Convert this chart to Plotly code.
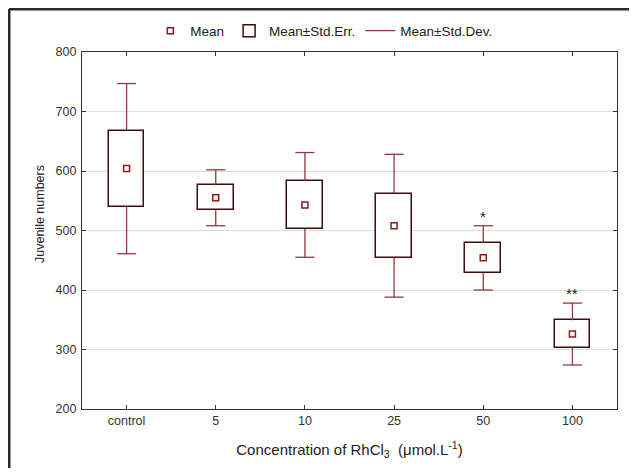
import plotly.graph_objects as go

categories = ["control", "5", "10", "25", "50", "100"]
means = [604, 555, 543, 508, 454, 326]
std_err = [64, 21, 40, 54, 25, 23]
std_dev = [143, 47, 88, 120, 54, 52]
significance = ["", "", "", "", "*", "**"]
y_ticks = [200, 300, 400, 500, 600, 700, 800]

FONT = "Liberation Sans, Arial, sans-serif"
BOX_COL = "#3f0d0d"
WHISK_COL = "#8e3b3b"
MEAN_COL = "#8b1a1a"

# figure geometry (page body keeps an 8px margin)
W, H = 629, 460
L, R, T, B = 74, 20, 44, 59
PW, PH = W - L - R, H - T - B

xs = list(range(len(categories)))
box_half = 0.2
cap_half = 0.107

# whisker segments (stems from box edge to mean±SD, plus caps)
wx, wy = [], []
for x, m, se, sd in zip(xs, means, std_err, std_dev):
    wx += [x, x, None, x, x, None]
    wy += [m + se, m + sd, None, m - se, m - sd, None]
    wx += [x - cap_half, x + cap_half, None, x - cap_half, x + cap_half, None]
    wy += [m + sd, m + sd, None, m - sd, m - sd, None]

fig = go.Figure()
fig.add_trace(go.Bar(
    x=xs, y=[2 * s for s in std_err], base=[m - s for m, s in zip(means, std_err)],
    width=2 * box_half, marker=dict(color="white", line=dict(color=BOX_COL, width=1.5)),
    name="Mean±Std.Err.", legendrank=2, hoverinfo="skip"))
fig.add_trace(go.Scatter(
    x=wx, y=wy, mode="lines", line=dict(color=WHISK_COL, width=1.3),
    name="Mean±Std.Dev.", legendrank=3, hoverinfo="skip"))
fig.add_trace(go.Scatter(
    x=xs, y=means, mode="markers",
    marker=dict(symbol="square-open", size=6, color=MEAN_COL, line=dict(width=1.5, color=MEAN_COL)),
    name="Mean", legendrank=1))

for x, m, sd, s in zip(xs, means, std_dev, significance):
    if s:
        fig.add_annotation(x=x, y=m + sd, text=s, showarrow=False, yanchor="bottom",
                           yshift=-1, font=dict(family=FONT, size=15, color="#222"))

# y-axis title (placed as in the reference, slightly above the plot centre)
fig.add_annotation(xref="paper", yref="paper", x=(32 - L) / PW, y=(PH + T - 206) / PH,
                   text="Juvenile numbers", textangle=-90, showarrow=False,
                   xanchor="center", yanchor="middle",
                   font=dict(family=FONT, size=12.5, color="#222"))

# outer frame: only its left and top edges fall inside the picture
fx0 = (1 - L) / PW
fy1 = (T + PH - 1) / PH
fig.add_shape(type="line", xref="paper", yref="paper", x0=fx0, x1=fx0,
              y0=(T + PH - (H + 20)) / PH, y1=fy1,
              line=dict(color="#2b2b2b", width=3), layer="below")
fig.add_shape(type="line", xref="paper", yref="paper", x0=fx0, x1=(W + 20 - L) / PW,
              y0=fy1, y1=fy1, line=dict(color="#2b2b2b", width=3), layer="below")

axis_common = dict(showline=True, linecolor="#333", linewidth=1.3, mirror="ticks",
                   ticks="inside", ticklen=4, tickcolor="#333", automargin=False,
                   tickfont=dict(family=FONT, size=12.5, color="#333"))

fig.update_layout(
    width=W, height=H,
    margin=dict(l=L, r=R, t=T, b=B, autoexpand=False),
    paper_bgcolor="white", plot_bgcolor="white",
    barmode="overlay", bargap=0,
    font=dict(family=FONT, color="#222"),
    showlegend=True,
    legend=dict(orientation="h", x=0.452, xanchor="center", y=1.059, yanchor="middle",
                font=dict(family=FONT, size=13.5, color="#222"),
                itemwidth=30, tracegroupgap=0, bgcolor="rgba(0,0,0,0)"),
    xaxis=dict(range=[-0.5, 5.5], tickvals=xs, ticktext=categories, showgrid=False,
               title=dict(text="Concentration of RhCl<sub>3</sub>  (μmol.L<sup>-1</sup>)",
                          font=dict(family=FONT, size=15, color="#222"), standoff=17),
               **axis_common),
    yaxis=dict(range=[200, 800], tickvals=y_ticks, showgrid=True, gridcolor="#dcdcdc",
               gridwidth=1, zeroline=False, ticklabelstandoff=2,
               **axis_common),
)

fig.write_html("out.html")
